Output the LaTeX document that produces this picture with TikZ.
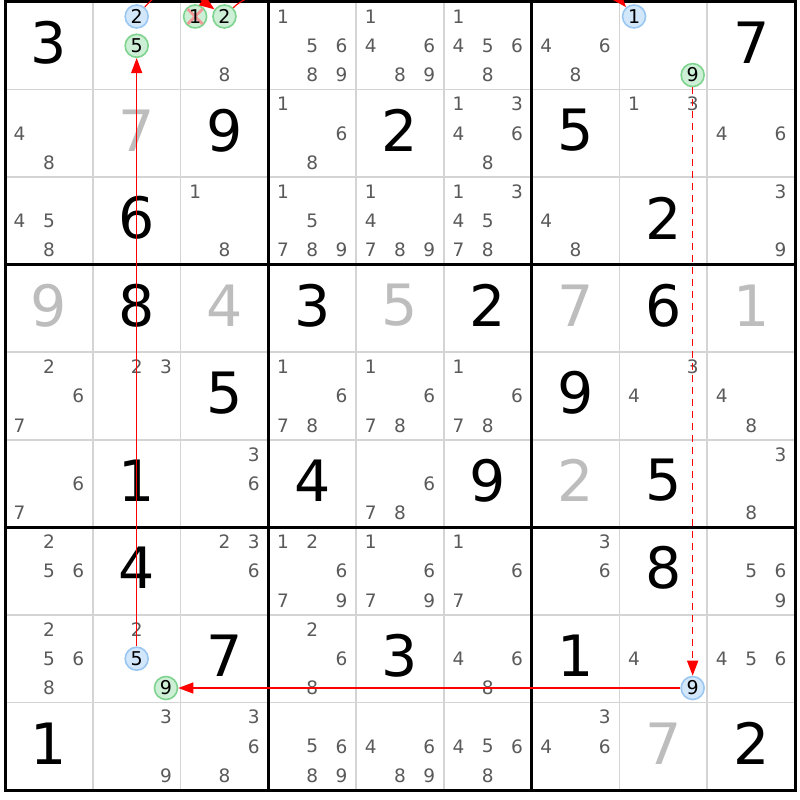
\documentclass[tikz,border=0pt]{standalone}
\usepackage{fontspec}
\setmainfont{DejaVu Sans}
\usetikzlibrary{arrows.meta,calc}
\definecolor{candgray}{HTML}{5A5A5A}
\definecolor{solvedgray}{HTML}{BDBDBD}
\definecolor{thingrid}{HTML}{D4D4D4}
\definecolor{bluefill}{HTML}{D3E7FB}
\definecolor{blueline}{HTML}{99C7F2}
\definecolor{greenfill}{HTML}{CDEFD6}
\definecolor{greenline}{HTML}{7ED48E}
\definecolor{xred}{HTML}{F29A9A}
\newcommand{\GX}{5}
\newcommand{\GY}{2}
\newcommand{\CW}{87.78}
\newcommand{\CH}{87.56}
\newcommand{\SP}{29.3}
\newcommand{\cand}[3]{\node[candtxt] (c#1#2#3) at ({\GX+(#2-0.5)*\CW+(mod(#3-1,3)-1)*\SP},{\GY+(#1-0.5)*\CH+(floor((#3-1)/3)-1)*\SP}) {#3};}
\newcommand{\cands}[3]{\foreach \dd in {#3}{\cand{#1}{#2}{\dd}}}
\newcommand{\ccand}[4]{\node[#4] (c#1#2#3) at ({\GX+(#2-0.5)*\CW+(mod(#3-1,3)-1)*\SP},{\GY+(#1-0.5)*\CH+(floor((#3-1)/3)-1)*\SP}) {#3};}
\newcommand{\given}[3]{\node[giventxt] (g#1#2) at ({\GX+(#2-0.5)*\CW},{\GY+(#1-0.5)*\CH}) {#3};}
\newcommand{\solved}[3]{\node[solvedtxt] (g#1#2) at ({\GX+(#2-0.5)*\CW},{\GY+(#1-0.5)*\CH}) {#3};}
\begin{document}
\begin{tikzpicture}[x=1pt,y=-1pt,
  candtxt/.style={text=candgray,font=\fontsize{18.5}{18.5}\selectfont,inner sep=0pt},
  giventxt/.style={font=\fontsize{57}{57}\selectfont,inner sep=0pt,yshift=3pt},
  solvedtxt/.style={giventxt,text=solvedgray},
  circbase/.style={circle,line width=1.6pt,minimum size=23pt,inner sep=0pt,font=\fontsize{19}{19}\selectfont},
  bluec/.style={circbase,draw=blueline,fill=bluefill},
  greenc/.style={circbase,draw=greenline,fill=greenfill},
  thingridline/.style={draw=thingrid,line width=1.6pt},
  thickgridline/.style={draw=black,line width=3pt},
  strongarrow/.style={draw=red,line width=1.1pt,-{Triangle[length=15pt,width=11pt]}},
  weakarrow/.style={draw=red,line width=1.6pt,dash pattern=on 7pt off 5pt,-{Triangle[length=15pt,width=11pt]}}
]
\useasboundingbox (0,0) rectangle (800,800);
\clip (0,0) rectangle (800,800);
\fill[white] (0,0) rectangle (800,800);
% grid
\foreach \i in {1,2,4,5,7,8}{
  \draw[thingridline] ({\GX+\i*\CW},\GY) -- ({\GX+\i*\CW},{\GY+9*\CH});
  \draw[thingridline] (\GX,{\GY+\i*\CH}) -- ({\GX+9*\CW},{\GY+\i*\CH});
}
\foreach \i in {3,6}{
  \draw[thickgridline] ({\GX+\i*\CW},\GY) -- ({\GX+\i*\CW},{\GY+9*\CH});
  \draw[thickgridline] (\GX,{\GY+\i*\CH}) -- ({\GX+9*\CW},{\GY+\i*\CH});
}
\draw[thickgridline] (\GX,\GY) rectangle ({\GX+9*\CW},{\GY+9*\CH});
% row 1
\given{1}{1}{3}
\ccand{1}{2}{2}{bluec}
\ccand{1}{2}{5}{greenc}
\node[greenc,text opacity=0] (c131) at ({\GX+2.5*\CW-\SP},{\GY+0.5*\CH-\SP}) {1};
\draw[xred,line width=2.8pt] ($(c131)+(-7.5,-7.5)$) -- ($(c131)+(7.5,7.5)$);
\draw[xred,line width=2.8pt] ($(c131)+(-7.5,7.5)$) -- ($(c131)+(7.5,-7.5)$);
\node[font=\fontsize{19}{19}\selectfont,inner sep=0pt] (x131) at (c131) {1};
\ccand{1}{3}{2}{greenc}
\cand{1}{3}{8}
\cands{1}{4}{1,5,6,8,9}
\cands{1}{5}{1,4,6,8,9}
\cands{1}{6}{1,4,5,6,8}
\cands{1}{7}{4,6,8}
\ccand{1}{8}{1}{bluec}
\ccand{1}{8}{9}{greenc}
\given{1}{9}{7}
% row 2
\cands{2}{1}{4,8}
\solved{2}{2}{7}
\given{2}{3}{9}
\cands{2}{4}{1,6,8}
\given{2}{5}{2}
\cands{2}{6}{1,3,4,6,8}
\given{2}{7}{5}
\cands{2}{8}{1,3}
\cands{2}{9}{4,6}
% row 3
\cands{3}{1}{4,5,8}
\given{3}{2}{6}
\cands{3}{3}{1,8}
\cands{3}{4}{1,5,7,8,9}
\cands{3}{5}{1,4,7,8,9}
\cands{3}{6}{1,3,4,5,7,8}
\cands{3}{7}{4,8}
\given{3}{8}{2}
\cands{3}{9}{3,9}
% row 4
\solved{4}{1}{9}
\given{4}{2}{8}
\solved{4}{3}{4}
\given{4}{4}{3}
\solved{4}{5}{5}
\given{4}{6}{2}
\solved{4}{7}{7}
\given{4}{8}{6}
\solved{4}{9}{1}
% row 5
\cands{5}{1}{2,6,7}
\cands{5}{2}{2,3}
\given{5}{3}{5}
\cands{5}{4}{1,6,7,8}
\cands{5}{5}{1,6,7,8}
\cands{5}{6}{1,6,7,8}
\given{5}{7}{9}
\cands{5}{8}{3,4}
\cands{5}{9}{4,8}
% row 6
\cands{6}{1}{6,7}
\given{6}{2}{1}
\cands{6}{3}{3,6}
\given{6}{4}{4}
\cands{6}{5}{6,7,8}
\given{6}{6}{9}
\solved{6}{7}{2}
\given{6}{8}{5}
\cands{6}{9}{3,8}
% row 7
\cands{7}{1}{2,5,6}
\given{7}{2}{4}
\cands{7}{3}{2,3,6}
\cands{7}{4}{1,2,6,7,9}
\cands{7}{5}{1,6,7,9}
\cands{7}{6}{1,6,7}
\cands{7}{7}{3,6}
\given{7}{8}{8}
\cands{7}{9}{5,6,9}
% row 8
\cands{8}{1}{2,5,6,8}
\cand{8}{2}{2}
\ccand{8}{2}{5}{bluec}
\ccand{8}{2}{9}{greenc}
\given{8}{3}{7}
\cands{8}{4}{2,6,8}
\given{8}{5}{3}
\cands{8}{6}{4,6,8}
\given{8}{7}{1}
\cand{8}{8}{4}
\ccand{8}{8}{9}{bluec}
\cands{8}{9}{4,5,6}
% row 9
\given{9}{1}{1}
\cands{9}{2}{3,9}
\cands{9}{3}{3,6,8}
\cands{9}{4}{5,6,8,9}
\cands{9}{5}{4,6,8,9}
\cands{9}{6}{4,5,6,8}
\cands{9}{7}{3,4,6}
\solved{9}{8}{7}
\given{9}{9}{2}
% chain
\draw[strongarrow] (c825) -- (c125);
\draw[strongarrow] (c889) -- (c829);
\draw[weakarrow] (c189) -- (c889);
\draw[strongarrow] (c122) .. controls ($(c122)+(30,-35)$) and ($(c132)+(-35,-25)$) .. (c132);
\draw[strongarrow] (c132) .. controls ($(c132)+(60,-60)$) and ($(c181)+(-30,-35)$) .. (c181);
\end{tikzpicture}
\end{document}
